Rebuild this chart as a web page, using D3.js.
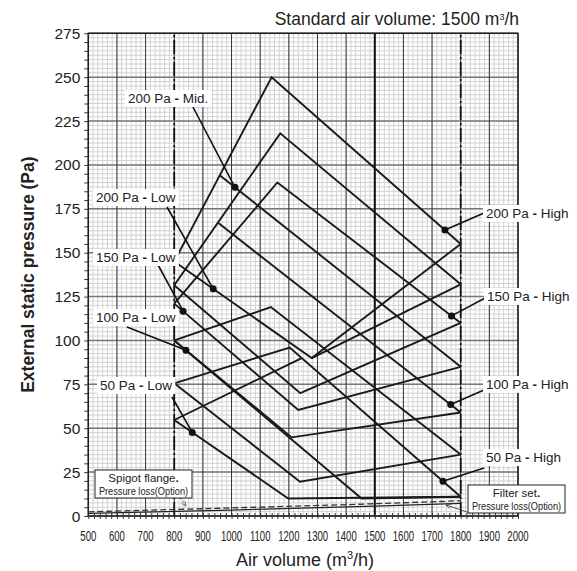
<!DOCTYPE html>
<html>
<head>
<meta charset="utf-8">
<script src="https://cdn.jsdelivr.net/npm/d3@7"></script>
<style>
  body { margin: 0; background: #fff; }
  text { font-family: "Liberation Sans", Arial, sans-serif; fill: #222; }
</style>
</head>
<body>
<div id="chart"></div>
<script>
// ---- data (air volume m3/h, pressure Pa) ----
var xTickValues = d3.range(500, 2001, 100);
var yTickValues = d3.range(0, 276, 25);

// upper (high side) lines
var curve200High = [[800, 145], [1140, 250], [1800, 155]];
var curveHighB   = [[800, 131.5], [1170, 218], [1800, 132]];
var curve150High = [[800, 121], [1160, 190], [1800, 110]];
var curve200Mid  = [[960, 194], [1800, 85]];
var curve100High = [[953, 167], [1800, 59]];
var curveHighE   = [[800, 100], [1137, 119], [1800, 35]];
var curve50High  = [[800, 75.6], [1203, 96], [1800, 11]];
var curveHighG   = [[800, 54.7], [1245, 90]];
// lower (low side) lines
var curve200Low = [[800, 145], [1280, 90], [1800, 155]];
var curveLowA   = [[1280, 90], [1800, 132]];
var curveLowB   = [[800, 131.5], [1240, 70], [1800, 110]];
var curve150Low = [[800, 121], [1233, 60.4], [1800, 85]];
var curve100Low = [[800, 100], [1210, 44.8], [1800, 59]];
var curveLowE   = [[800, 75.6], [1239, 19.5], [1800, 35]];
var curve50Low  = [[800, 54.7], [1198, 10], [1800, 11]];
var curveLowG   = [[800, 100], [1454, 10], [1800, 11]];

var spigotLoss = [[500, 2.4], [1000, 4.6], [1500, 7.0], [1800, 8.7]];
var filterLoss = [[500, 1.5], [1000, 3.4], [1500, 5.6], [1800, 7.2]];

var fanCurves = [curve200High, curveHighB, curve150High, curve200Mid, curve100High,
  curveHighE, curve50High, curveHighG, curve200Low, curveLowA, curveLowB,
  curve150Low, curve100Low, curveLowE, curve50Low, curveLowG];

// labels: text, curve they point at, air volume of the dot
var leftLabels  = ["200 Pa - Mid.", "200 Pa - Low", "150 Pa - Low", "100 Pa - Low", "50 Pa - Low"];
var leftCurves  = [curve200Mid, curve200Low, curve150Low, curve100Low, curve50Low];
var leftDotX    = [1012, 936, 831, 841, 863];
var rightLabels = ["200 Pa - High", "150 Pa - High", "100 Pa - High", "50 Pa - High"];
var rightCurves = [curve200High, curve150High, curve100High, curve50High];
var rightDotX   = [1745, 1768, 1765, 1738];

var width = 577, height = 571;
var margin = { left: 88.3, right: 59, top: 33.3, bottom: 55 };

var svg = d3.select("#chart").append("svg")
    .attr("width", width)
    .attr("height", height);

var x = d3.scaleLinear().domain([500, 2000]).range([margin.left, width - margin.right]);
var y = d3.scaleLinear().domain([0, 275]).range([height - margin.bottom, margin.top]);

// value of a polyline at air volume v
function valueAt(pts, v) {
  for (var i = 1; i < pts.length; i++) {
    if (v <= pts[i][0]) {
      var t = (v - pts[i - 1][0]) / (pts[i][0] - pts[i - 1][0]);
      return pts[i - 1][1] + t * (pts[i][1] - pts[i - 1][1]);
    }
  }
  return pts[pts.length - 1][1];
}

var plot = svg.append("g");

// minor grid
plot.selectAll("line.vminor")
    .data(d3.range(0, 90).map(function(i) { return 500 + i * 100 / 6; }))
  .enter().append("line")
    .attr("x1", function(d) { return x(d); }).attr("x2", function(d) { return x(d); })
    .attr("y1", y(0)).attr("y2", y(275))
    .attr("stroke", "#d2d2d2").attr("stroke-width", 1);

plot.selectAll("line.hminor")
    .data(d3.range(0, 276, 2.5))
  .enter().append("line")
    .attr("y1", function(d) { return y(d); }).attr("y2", function(d) { return y(d); })
    .attr("x1", x(500)).attr("x2", x(2000))
    .attr("stroke", "#d2d2d2").attr("stroke-width", 1);

// major grid
plot.selectAll("line.hmajor")
    .data(yTickValues)
  .enter().append("line")
    .attr("y1", function(d) { return y(d); }).attr("y2", function(d) { return y(d); })
    .attr("x1", x(500)).attr("x2", x(2000))
    .attr("stroke", "#777").attr("stroke-width", 1.5);

plot.selectAll("line.vmajor")
    .data(xTickValues)
  .enter().append("line")
    .attr("x1", function(d) { return x(d); }).attr("x2", function(d) { return x(d); })
    .attr("y1", y(0)).attr("y2", y(275))
    .attr("stroke", "#333").attr("stroke-width", 1);

// reference lines: 800 / 1800 dash-dot, 1500 standard volume
[800, 1800].forEach(function(v) {
  plot.append("line")
    .attr("x1", x(v)).attr("x2", x(v)).attr("y1", y(0)).attr("y2", y(275))
    .attr("stroke", "#111").attr("stroke-width", 1.8)
    .attr("stroke-dasharray", "14,3,2,3");
});
plot.append("line")
    .attr("x1", x(1500)).attr("x2", x(1500)).attr("y1", y(0)).attr("y2", y(275))
    .attr("stroke", "#111").attr("stroke-width", 2);

// frame
plot.append("rect")
    .attr("x", x(500)).attr("y", y(275))
    .attr("width", x(2000) - x(500)).attr("height", y(0) - y(275))
    .attr("fill", "none").attr("stroke", "#222").attr("stroke-width", 1.5);

// small ticks on the left and bottom edges
var yAxis = d3.axisLeft(y).tickValues(d3.range(0, 276, 5)).tickSize(4).tickFormat("");
svg.append("g").attr("transform", "translate(" + x(500) + ",0)").call(yAxis)
    .call(function(g) { g.select(".domain").remove(); g.selectAll("line").attr("stroke", "#333"); });
var xAxis = d3.axisBottom(x).tickValues(d3.range(500, 2001, 20)).tickSize(6).tickFormat("");
svg.append("g").attr("transform", "translate(0," + (y(0) - 3) + ")").call(xAxis)
    .call(function(g) { g.select(".domain").remove(); g.selectAll("line").attr("stroke", "#333"); });

// tick labels
svg.selectAll("text.ylab")
    .data(yTickValues)
  .enter().append("text")
    .attr("x", x(500) - 8).attr("y", function(d) { return y(d) + 5.5; })
    .attr("text-anchor", "end").attr("font-size", 15.5)
    .text(function(d) { return d; });

svg.selectAll("text.xlab")
    .data(xTickValues)
  .enter().append("text")
    .attr("transform", function(d) { return "translate(" + x(d) + ",541) scale(0.66,1)"; })
    .attr("text-anchor", "middle")
    .attr("font-size", 14.5)
    .text(function(d) { return d; });

// pressure loss lines
var line = d3.line().x(function(d) { return x(d[0]); }).y(function(d) { return y(d[1]); });
var smooth = d3.line().curve(d3.curveMonotoneX).x(function(d) { return x(d[0]); }).y(function(d) { return y(d[1]); });

plot.append("path").datum(filterLoss).attr("d", smooth)
    .attr("fill", "none").attr("stroke", "#222").attr("stroke-width", 1.3);
plot.append("path").datum(spigotLoss).attr("d", smooth)
    .attr("fill", "none").attr("stroke", "#333").attr("stroke-width", 1.3)
    .attr("stroke-dasharray", "6,3");

// fan curves
plot.selectAll("path.fan")
    .data(fanCurves)
  .enter().append("path")
    .attr("d", line)
    .attr("fill", "none").attr("stroke", "#1a1a1a").attr("stroke-width", 1.9)
    .attr("stroke-linejoin", "miter");

// labels
function label(txt, px, py) {
  var g = svg.append("g");
  var t = g.append("text").attr("x", px).attr("y", py).attr("font-size", 13.5);
  var parts = txt.split(" - ");
  t.append("tspan").text(parts[0] + " ");
  t.append("tspan").attr("font-weight", "bold").text("-");
  t.append("tspan").text(" " + parts[1]);
  var b = t.node().getBBox();
  g.insert("rect", "text").attr("x", b.x - 3).attr("y", b.y - 1)
    .attr("width", b.width + 6).attr("height", b.height + 2).attr("fill", "#fff");
}
var dots = [];
function pointer(txt, crv, v, p) {
  var d = [v, valueAt(crv, v)];
  dots.push(d);
  svg.append("line").attr("x1", p[2]).attr("y1", p[3])
    .attr("x2", x(d[0])).attr("y2", y(d[1]))
    .attr("stroke", "#111").attr("stroke-width", 1.6);
  label(txt, p[0], p[1]);
}
var leftPos = [[128, 103, 193, 107], [96, 202, 167, 207], [96, 262, 157, 263], [96, 322, 127, 327], [100, 390, 172, 397]];
leftLabels.forEach(function(t, i) { pointer(t, leftCurves[i], leftDotX[i], leftPos[i]); });
var rightPos = [[486, 218, 484, 213], [487, 301, 487, 297], [486, 389, 484, 390], [486, 462, 484, 468]];
rightLabels.forEach(function(t, i) { pointer(t, rightCurves[i], rightDotX[i], rightPos[i]); });

svg.selectAll("circle.dot")
    .data(dots)
  .enter().append("circle")
    .attr("cx", function(d) { return x(d[0]); }).attr("cy", function(d) { return y(d[1]); })
    .attr("r", 3.5).attr("fill", "#111");

// arrow marker for the option boxes
svg.append("defs").append("marker")
    .attr("id", "arr").attr("viewBox", "0 0 10 10").attr("refX", 9).attr("refY", 5)
    .attr("markerWidth", 7).attr("markerHeight", 7).attr("orient", "auto")
  .append("path").attr("d", "M0,1L10,5L0,9").attr("fill", "none").attr("stroke", "#333");

function optBox(bx, by, line1, line2, ax, ay, tx, ty, dash) {
  svg.append("line").attr("x1", ax).attr("y1", ay).attr("x2", tx).attr("y2", ty)
    .attr("stroke", "#333").attr("stroke-width", 0.8)
    .attr("stroke-dasharray", dash ? "2,1.5" : null)
    .attr("marker-end", "url(#arr)");
  svg.append("rect").attr("x", bx).attr("y", by).attr("width", 97).attr("height", 28)
    .attr("fill", "#fff").attr("stroke", "#222").attr("stroke-width", 1);
  var t1 = svg.append("text").attr("x", bx + 48.5).attr("y", by + 12).attr("text-anchor", "middle")
    .attr("font-size", 11.5);
  t1.append("tspan").text(line1);
  t1.append("tspan").attr("font-weight", "bold").text(".");
  svg.append("text")
    .attr("transform", "translate(" + (bx + 48.5) + "," + (by + 24.5) + ") scale(0.84,1)")
    .attr("text-anchor", "middle").attr("font-size", 11)
    .text(line2);
}
optBox(95, 470, "Spigot flange", "Pressure loss(Option)", 180, 498, 186, 506, true);
optBox(468, 485, "Filter set", "Pressure loss(Option)", 470, 513, 446, 505, false);

// titles
var title = svg.append("text").attr("x", 519).attr("y", 25).attr("text-anchor", "end")
    .attr("font-size", 17.5);
title.append("tspan").text("Standard air volume: 1500 m");
title.append("tspan").attr("font-size", 9).attr("dy", -5).text("3");
title.append("tspan").attr("dy", 5).text("/h");

var xt = svg.append("text").attr("x", 305).attr("y", 566).attr("text-anchor", "middle")
    .attr("font-size", 18);
xt.append("tspan").text("Air volume (m");
xt.append("tspan").attr("font-size", 11).attr("dy", -7).text("3");
xt.append("tspan").attr("dy", 7).text("/h)");

svg.append("text")
    .attr("transform", "translate(34," + ((y(0) + y(275)) / 2) + ") rotate(-90)")
    .attr("text-anchor", "middle").attr("font-size", 17.5).attr("font-weight", "bold")
    .text("External static pressure (Pa)");
</script>
</body>
</html>
